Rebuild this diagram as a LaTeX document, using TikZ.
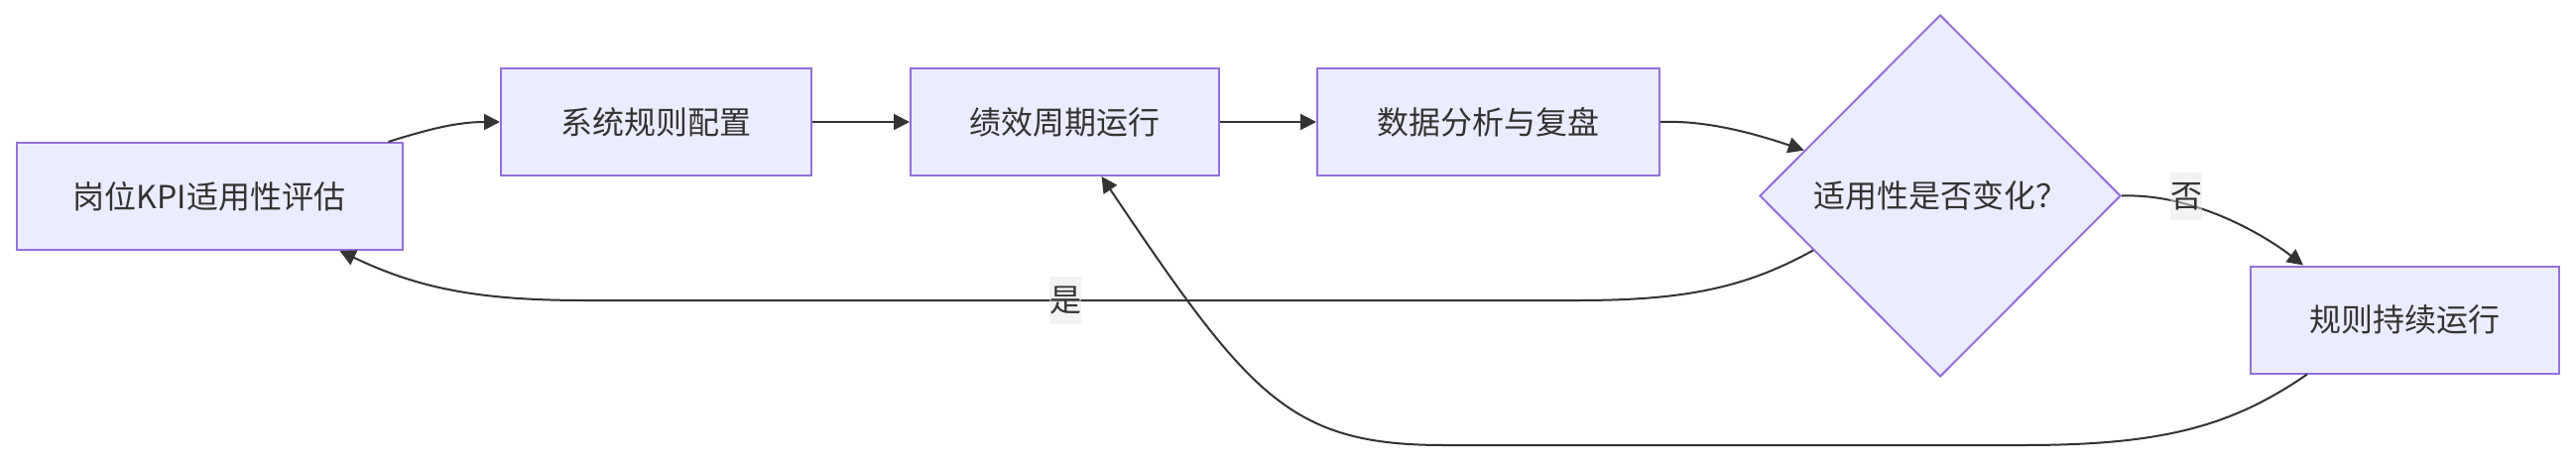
\documentclass[tikz,border=0pt]{standalone}
\usepackage{fontspec}
\setmainfont{Noto Sans CJK SC}
\usetikzlibrary{calc}
\usetikzlibrary{positioning}
\usetikzlibrary{shapes.geometric}
\usetikzlibrary{arrows.meta}

\definecolor{boxfill}{HTML}{ECECFF}
\definecolor{boxline}{HTML}{9370DB}
\definecolor{linkline}{HTML}{333333}
\definecolor{tagfill}{HTML}{E8E8E8}

\begin{document}
\begin{tikzpicture}[x=0.5pt, y=-0.5pt,
    every node/.style={font=\fontsize{16pt}{19pt}\selectfont, text=linkline},
    stepbox/.style={draw=boxline, fill=boxfill, line width=1pt, minimum height=54pt, inner sep=0pt},
    choice/.style={diamond, draw=boxline, fill=boxfill, line width=1pt, aspect=1,
        minimum width=182pt, minimum height=182.5pt, inner sep=0pt},
    tag/.style={fill=tagfill, fill opacity=0.5, text opacity=1, inner sep=0pt,
        minimum width=16pt, minimum height=24pt},
    link/.style={draw=linkline, line width=1pt, -{Triangle[length=8pt, width=8pt]}}]

    % ---- Frame (pixel units, y down) ----
    \useasboundingbox (0,0) rectangle (2597,466);

    % Steps
    \node [stepbox, minimum width=194.5pt] (assess) at (211,198) {岗位KPI适用性评估};
    \node [stepbox, minimum width=156.5pt] (config) at (661.5,123) {系统规则配置};
    \node [stepbox, minimum width=155.5pt] (cycle) at (1073.5,123) {绩效周期运行};
    \node [stepbox, minimum width=172.5pt] (review) at (1500.5,123) {数据分析与复盘};
    \node [choice] (check) at (1956,197.5) {适用性是否变化？};
    \node [stepbox, minimum width=155.5pt] (keep) at (2424.5,322.5) {规则持续运行};

    % Connector ends
    \coordinate (assessOut) at ($(assess.north east)+(-15,0)$);
    \coordinate (assessIn) at ($(assess.south east)+(-64,0)$);
    \coordinate (checkIn) at ($(check.west)!0.25!(check.north)$);
    \coordinate (checkYes) at ($(check.west)!0.3!(check.south)$);
    \coordinate (keepIn) at ($(keep.north west)+(54,0)$);
    \coordinate (keepOut) at ($(keep.south west)+(58,0)$);
    \coordinate (cycleIn) at ($(cycle.south)+(37,0)$);

    % Main flow
    \draw [link] (assessOut) .. controls (430,131) and (460,123) .. (config.west);
    \draw [link] (config) -- (cycle);
    \draw [link] (cycle) -- (review);
    \draw [link] (review.east) .. controls (1720,121) and (1770,135) .. (checkIn);

    % Decision branches
    \draw [link] (checkYes) .. controls (1760,290) and (1700,303) .. (1590,303)
        -- (590,303) .. controls (480,303) and (420,290) .. (assessIn);
    \draw [link] (check.east) .. controls (2210,195) and (2280,235) .. (keepIn);

    % Loop back
    \draw [link] (keepOut) .. controls (2250,430) and (2180,449) .. (2040,449)
        -- (1456,449) .. controls (1300,449) and (1260,400) .. (cycleIn);

    % Branch labels
    \node [tag] (yes) at (1074,303) {是};
    \node [tag] (no) at (2204,198) {否};

\end{tikzpicture}
\end{document}
